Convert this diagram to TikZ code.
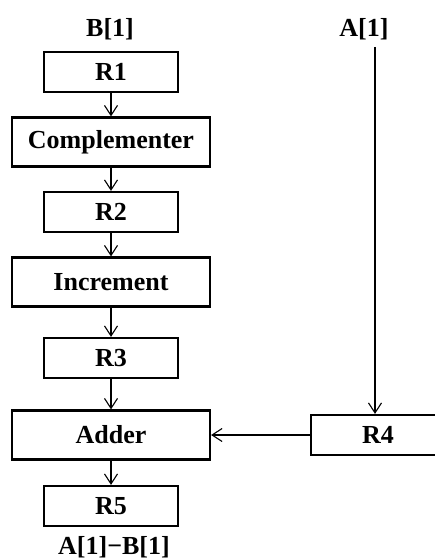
\documentclass[tikz,border=0pt]{standalone}
\usepackage{fontspec}
\setmainfont{Liberation Serif}
\usepackage{tikz}
\usetikzlibrary{arrows.meta}
\tikzstyle{TextFlow}=[inner sep=0pt,font=\fontsize{26}{30}\selectfont\bfseries]
\tikzstyle{RegBox}=[TextFlow,rectangle,draw=black,line width=2.2pt,minimum width=134pt,minimum height=40pt]
\tikzstyle{UnitBox}=[RegBox,minimum width=198pt,minimum height=49pt]
\tikzstyle{ArcFlow}=[black,line width=2.2pt,-{Straight Barb[length=10pt,width=13pt,line width=1.1pt]}]

\begin{document}
\begin{tikzpicture}[x=1pt,y=-1pt]
        \useasboundingbox(0,0)rectangle(434,559);
        \node[TextFlow](inB)at(110,29){B[1]};
        \node[TextFlow](inA)at(364,29){A[1]};
        \coordinate(topA)at(375,47);
        \node[RegBox](R1)at(111,72){R1};
        \node[UnitBox](comp)at(111,142){Complementer};
        \node[RegBox](R2)at(111,212){R2};
        \node[UnitBox](incr)at(111,282){Increment};
        \node[RegBox](R3)at(111,358){R3};
        \node[UnitBox](adder)at(111,435){Adder};
        \node[RegBox](R4)at(378,435){R4};
        \node[RegBox](R5)at(111,506){R5};
        \node[TextFlow](outD)at(114,547){A[1]−B[1]};
        \draw[ArcFlow](R1)--(comp);
        \draw[ArcFlow](comp)--(R2);
        \draw[ArcFlow](R2)--(incr);
        \draw[ArcFlow](incr)--(R3);
        \draw[ArcFlow](R3)--(adder);
        \draw[ArcFlow](adder)--(R5);
        \draw[ArcFlow](topA)--(topA|-R4.north);
        \draw[ArcFlow](R4)--(adder);
    \end{tikzpicture}
\end{document}
